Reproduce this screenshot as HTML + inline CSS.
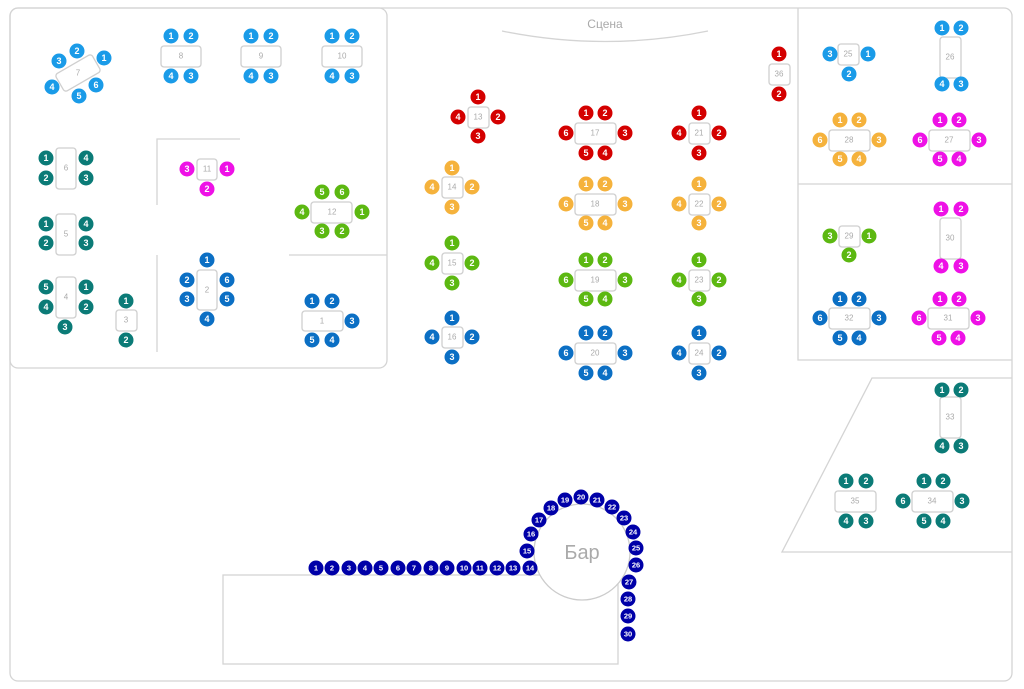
<!DOCTYPE html>
<html><head><meta charset="utf-8"><style>
body{margin:0;background:#fff}
svg{display:block;font-family:"Liberation Sans",sans-serif}
.w{fill:none;stroke:#d4d4d4;stroke-width:1.3}
.t{fill:#fff;stroke:#cfcfcf;stroke-width:1.3}
.l{fill:#aaa;font-size:8px;text-anchor:middle;dominant-baseline:central}
.s text{fill:#fff;font-size:9px;font-weight:bold;text-anchor:middle;dominant-baseline:central}
.b text{fill:#fff;font-size:7.5px;font-weight:bold;text-anchor:middle;dominant-baseline:central}
.lb circle{fill:#1a9be8}.tl circle{fill:#0b7b77}.mg circle{fill:#ee11e6}.gr circle{fill:#5cb811}
.bl circle{fill:#0b6fc4}.rd circle{fill:#d40000}.or circle{fill:#f5b23c}.nv circle{fill:#0000a8}
</style></head><body>
<svg width="1024" height="689" viewBox="0 0 1024 689">
<rect class="w" x="10" y="8" width="1002" height="673" rx="8"/>
<rect class="w" x="10" y="8" width="377" height="360" rx="8"/>
<path class="w" d="M157 205V139H240M157 255V352M289 255H387"/>
<path class="w" d="M798 8V360H1012M798 184H1012"/>
<path class="w" d="M1012 378H872L782 552H1012"/>
<path class="w" d="M502 31Q605 52 708 31"/>
<text x="605" y="28" fill="#aaa" font-size="12" text-anchor="middle">Сцена</text>
<rect class="w" x="223" y="575" width="395" height="89"/>
<circle cx="582" cy="552" r="48" fill="#fff" stroke="#ccc" stroke-width="1.3"/>
<text x="582" y="553" fill="#aaa" font-size="20" text-anchor="middle" dominant-baseline="central">Бар</text>

<!-- tables -->
<rect class="t" x="57" y="63" width="42" height="20" rx="3" transform="rotate(-30 78 73)"/><text class="l" x="78" y="73">7</text>
<rect class="t" x="161" y="46" width="40" height="21" rx="3"/><text class="l" x="181" y="56">8</text>
<rect class="t" x="241" y="46" width="40" height="21" rx="3"/><text class="l" x="261" y="56">9</text>
<rect class="t" x="322" y="46" width="40" height="21" rx="3"/><text class="l" x="342" y="56">10</text>
<rect class="t" x="56" y="148" width="20" height="41" rx="3"/><text class="l" x="66" y="168">6</text>
<rect class="t" x="56" y="214" width="20" height="41" rx="3"/><text class="l" x="66" y="234">5</text>
<rect class="t" x="56" y="277" width="20" height="41" rx="3"/><text class="l" x="66" y="297">4</text>
<rect class="t" x="116" y="310" width="21" height="21" rx="3"/><text class="l" x="126" y="320">3</text>
<rect class="t" x="197" y="159" width="20" height="21" rx="3"/><text class="l" x="207" y="169">11</text>
<rect class="t" x="311" y="202" width="41" height="21" rx="3"/><text class="l" x="332" y="212">12</text>
<rect class="t" x="197" y="270" width="20" height="40" rx="3"/><text class="l" x="207" y="290">2</text>
<rect class="t" x="302" y="311" width="41" height="20" rx="3"/><text class="l" x="322" y="321">1</text>
<rect class="t" x="468" y="107" width="21" height="21" rx="3"/><text class="l" x="478" y="117">13</text>
<rect class="t" x="575" y="123" width="41" height="21" rx="3"/><text class="l" x="595" y="133">17</text>
<rect class="t" x="689" y="123" width="21" height="21" rx="3"/><text class="l" x="699" y="133">21</text>
<rect class="t" x="769" y="64" width="21" height="21" rx="3"/><text class="l" x="779" y="74">36</text>
<rect class="t" x="442" y="177" width="21" height="21" rx="3"/><text class="l" x="452" y="187">14</text>
<rect class="t" x="575" y="194" width="41" height="21" rx="3"/><text class="l" x="595" y="204">18</text>
<rect class="t" x="689" y="194" width="21" height="21" rx="3"/><text class="l" x="699" y="204">22</text>
<rect class="t" x="442" y="253" width="21" height="21" rx="3"/><text class="l" x="452" y="263">15</text>
<rect class="t" x="575" y="270" width="41" height="21" rx="3"/><text class="l" x="595" y="280">19</text>
<rect class="t" x="689" y="270" width="21" height="21" rx="3"/><text class="l" x="699" y="280">23</text>
<rect class="t" x="442" y="327" width="21" height="21" rx="3"/><text class="l" x="452" y="337">16</text>
<rect class="t" x="575" y="343" width="41" height="21" rx="3"/><text class="l" x="595" y="353">20</text>
<rect class="t" x="689" y="343" width="21" height="21" rx="3"/><text class="l" x="699" y="353">24</text>
<rect class="t" x="838" y="44" width="21" height="21" rx="3"/><text class="l" x="848" y="54">25</text>
<rect class="t" x="940" y="37" width="21" height="41" rx="3"/><text class="l" x="950" y="57">26</text>
<rect class="t" x="829" y="130" width="41" height="21" rx="3"/><text class="l" x="849" y="140">28</text>
<rect class="t" x="929" y="130" width="41" height="21" rx="3"/><text class="l" x="949" y="140">27</text>
<rect class="t" x="839" y="226" width="21" height="21" rx="3"/><text class="l" x="849" y="236">29</text>
<rect class="t" x="940" y="218" width="21" height="41" rx="3"/><text class="l" x="950" y="238">30</text>
<rect class="t" x="829" y="308" width="41" height="21" rx="3"/><text class="l" x="849" y="318">32</text>
<rect class="t" x="928" y="308" width="41" height="21" rx="3"/><text class="l" x="948" y="318">31</text>
<rect class="t" x="940" y="397" width="21" height="41" rx="3"/><text class="l" x="950" y="417">33</text>
<rect class="t" x="835" y="491" width="41" height="21" rx="3"/><text class="l" x="855" y="501">35</text>
<rect class="t" x="912" y="491" width="41" height="21" rx="3"/><text class="l" x="932" y="501">34</text>

<g class="s lb">
<circle cx="77" cy="51" r="7.5"/><text x="77" y="51">2</text>
<circle cx="59" cy="61" r="7.5"/><text x="59" y="61">3</text>
<circle cx="104" cy="58" r="7.5"/><text x="104" y="58">1</text>
<circle cx="52" cy="87" r="7.5"/><text x="52" y="87">4</text>
<circle cx="79" cy="96" r="7.5"/><text x="79" y="96">5</text>
<circle cx="96" cy="85" r="7.5"/><text x="96" y="85">6</text>
<circle cx="171" cy="36" r="7.5"/><text x="171" y="36">1</text>
<circle cx="191" cy="36" r="7.5"/><text x="191" y="36">2</text>
<circle cx="171" cy="76" r="7.5"/><text x="171" y="76">4</text>
<circle cx="191" cy="76" r="7.5"/><text x="191" y="76">3</text>
<circle cx="251" cy="36" r="7.5"/><text x="251" y="36">1</text>
<circle cx="271" cy="36" r="7.5"/><text x="271" y="36">2</text>
<circle cx="251" cy="76" r="7.5"/><text x="251" y="76">4</text>
<circle cx="271" cy="76" r="7.5"/><text x="271" y="76">3</text>
<circle cx="332" cy="36" r="7.5"/><text x="332" y="36">1</text>
<circle cx="352" cy="36" r="7.5"/><text x="352" y="36">2</text>
<circle cx="332" cy="76" r="7.5"/><text x="332" y="76">4</text>
<circle cx="352" cy="76" r="7.5"/><text x="352" y="76">3</text>
<circle cx="830" cy="54" r="7.5"/><text x="830" y="54">3</text>
<circle cx="868" cy="54" r="7.5"/><text x="868" y="54">1</text>
<circle cx="849" cy="74" r="7.5"/><text x="849" y="74">2</text>
<circle cx="942" cy="28" r="7.5"/><text x="942" y="28">1</text>
<circle cx="961" cy="28" r="7.5"/><text x="961" y="28">2</text>
<circle cx="942" cy="84" r="7.5"/><text x="942" y="84">4</text>
<circle cx="961" cy="84" r="7.5"/><text x="961" y="84">3</text>
</g>
<g class="s tl">
<circle cx="46" cy="158" r="7.5"/><text x="46" y="158">1</text>
<circle cx="46" cy="178" r="7.5"/><text x="46" y="178">2</text>
<circle cx="86" cy="158" r="7.5"/><text x="86" y="158">4</text>
<circle cx="86" cy="178" r="7.5"/><text x="86" y="178">3</text>
<circle cx="46" cy="224" r="7.5"/><text x="46" y="224">1</text>
<circle cx="46" cy="243" r="7.5"/><text x="46" y="243">2</text>
<circle cx="86" cy="224" r="7.5"/><text x="86" y="224">4</text>
<circle cx="86" cy="243" r="7.5"/><text x="86" y="243">3</text>
<circle cx="46" cy="287" r="7.5"/><text x="46" y="287">5</text>
<circle cx="46" cy="307" r="7.5"/><text x="46" y="307">4</text>
<circle cx="86" cy="287" r="7.5"/><text x="86" y="287">1</text>
<circle cx="86" cy="307" r="7.5"/><text x="86" y="307">2</text>
<circle cx="65" cy="327" r="7.5"/><text x="65" y="327">3</text>
<circle cx="126" cy="301" r="7.5"/><text x="126" y="301">1</text>
<circle cx="126" cy="340" r="7.5"/><text x="126" y="340">2</text>
<circle cx="942" cy="390" r="7.5"/><text x="942" y="390">1</text>
<circle cx="961" cy="390" r="7.5"/><text x="961" y="390">2</text>
<circle cx="942" cy="446" r="7.5"/><text x="942" y="446">4</text>
<circle cx="961" cy="446" r="7.5"/><text x="961" y="446">3</text>
<circle cx="846" cy="481" r="7.5"/><text x="846" y="481">1</text>
<circle cx="866" cy="481" r="7.5"/><text x="866" y="481">2</text>
<circle cx="846" cy="521" r="7.5"/><text x="846" y="521">4</text>
<circle cx="866" cy="521" r="7.5"/><text x="866" y="521">3</text>
<circle cx="924" cy="481" r="7.5"/><text x="924" y="481">1</text>
<circle cx="943" cy="481" r="7.5"/><text x="943" y="481">2</text>
<circle cx="903" cy="501" r="7.5"/><text x="903" y="501">6</text>
<circle cx="962" cy="501" r="7.5"/><text x="962" y="501">3</text>
<circle cx="924" cy="521" r="7.5"/><text x="924" y="521">5</text>
<circle cx="943" cy="521" r="7.5"/><text x="943" y="521">4</text>
</g>
<g class="s mg">
<circle cx="187" cy="169" r="7.5"/><text x="187" y="169">3</text>
<circle cx="227" cy="169" r="7.5"/><text x="227" y="169">1</text>
<circle cx="207" cy="189" r="7.5"/><text x="207" y="189">2</text>
<circle cx="940" cy="120" r="7.5"/><text x="940" y="120">1</text>
<circle cx="959" cy="120" r="7.5"/><text x="959" y="120">2</text>
<circle cx="920" cy="140" r="7.5"/><text x="920" y="140">6</text>
<circle cx="979" cy="140" r="7.5"/><text x="979" y="140">3</text>
<circle cx="940" cy="159" r="7.5"/><text x="940" y="159">5</text>
<circle cx="959" cy="159" r="7.5"/><text x="959" y="159">4</text>
<circle cx="941" cy="209" r="7.5"/><text x="941" y="209">1</text>
<circle cx="961" cy="209" r="7.5"/><text x="961" y="209">2</text>
<circle cx="941" cy="266" r="7.5"/><text x="941" y="266">4</text>
<circle cx="961" cy="266" r="7.5"/><text x="961" y="266">3</text>
<circle cx="940" cy="299" r="7.5"/><text x="940" y="299">1</text>
<circle cx="959" cy="299" r="7.5"/><text x="959" y="299">2</text>
<circle cx="919" cy="318" r="7.5"/><text x="919" y="318">6</text>
<circle cx="978" cy="318" r="7.5"/><text x="978" y="318">3</text>
<circle cx="939" cy="338" r="7.5"/><text x="939" y="338">5</text>
<circle cx="958" cy="338" r="7.5"/><text x="958" y="338">4</text>
</g>
<g class="s gr">
<circle cx="322" cy="192" r="7.5"/><text x="322" y="192">5</text>
<circle cx="342" cy="192" r="7.5"/><text x="342" y="192">6</text>
<circle cx="302" cy="212" r="7.5"/><text x="302" y="212">4</text>
<circle cx="362" cy="212" r="7.5"/><text x="362" y="212">1</text>
<circle cx="322" cy="231" r="7.5"/><text x="322" y="231">3</text>
<circle cx="342" cy="231" r="7.5"/><text x="342" y="231">2</text>
<circle cx="452" cy="243" r="7.5"/><text x="452" y="243">1</text>
<circle cx="432" cy="263" r="7.5"/><text x="432" y="263">4</text>
<circle cx="472" cy="263" r="7.5"/><text x="472" y="263">2</text>
<circle cx="452" cy="283" r="7.5"/><text x="452" y="283">3</text>
<circle cx="586" cy="260" r="7.5"/><text x="586" y="260">1</text>
<circle cx="605" cy="260" r="7.5"/><text x="605" y="260">2</text>
<circle cx="566" cy="280" r="7.5"/><text x="566" y="280">6</text>
<circle cx="625" cy="280" r="7.5"/><text x="625" y="280">3</text>
<circle cx="586" cy="299" r="7.5"/><text x="586" y="299">5</text>
<circle cx="605" cy="299" r="7.5"/><text x="605" y="299">4</text>
<circle cx="699" cy="260" r="7.5"/><text x="699" y="260">1</text>
<circle cx="679" cy="280" r="7.5"/><text x="679" y="280">4</text>
<circle cx="719" cy="280" r="7.5"/><text x="719" y="280">2</text>
<circle cx="699" cy="299" r="7.5"/><text x="699" y="299">3</text>
<circle cx="830" cy="236" r="7.5"/><text x="830" y="236">3</text>
<circle cx="869" cy="236" r="7.5"/><text x="869" y="236">1</text>
<circle cx="849" cy="255" r="7.5"/><text x="849" y="255">2</text>
</g>
<g class="s bl">
<circle cx="207" cy="260" r="7.5"/><text x="207" y="260">1</text>
<circle cx="187" cy="280" r="7.5"/><text x="187" y="280">2</text>
<circle cx="187" cy="299" r="7.5"/><text x="187" y="299">3</text>
<circle cx="227" cy="280" r="7.5"/><text x="227" y="280">6</text>
<circle cx="227" cy="299" r="7.5"/><text x="227" y="299">5</text>
<circle cx="207" cy="319" r="7.5"/><text x="207" y="319">4</text>
<circle cx="312" cy="301" r="7.5"/><text x="312" y="301">1</text>
<circle cx="332" cy="301" r="7.5"/><text x="332" y="301">2</text>
<circle cx="352" cy="321" r="7.5"/><text x="352" y="321">3</text>
<circle cx="312" cy="340" r="7.5"/><text x="312" y="340">5</text>
<circle cx="332" cy="340" r="7.5"/><text x="332" y="340">4</text>
<circle cx="452" cy="318" r="7.5"/><text x="452" y="318">1</text>
<circle cx="432" cy="337" r="7.5"/><text x="432" y="337">4</text>
<circle cx="472" cy="337" r="7.5"/><text x="472" y="337">2</text>
<circle cx="452" cy="357" r="7.5"/><text x="452" y="357">3</text>
<circle cx="586" cy="333" r="7.5"/><text x="586" y="333">1</text>
<circle cx="605" cy="333" r="7.5"/><text x="605" y="333">2</text>
<circle cx="566" cy="353" r="7.5"/><text x="566" y="353">6</text>
<circle cx="625" cy="353" r="7.5"/><text x="625" y="353">3</text>
<circle cx="586" cy="373" r="7.5"/><text x="586" y="373">5</text>
<circle cx="605" cy="373" r="7.5"/><text x="605" y="373">4</text>
<circle cx="699" cy="333" r="7.5"/><text x="699" y="333">1</text>
<circle cx="679" cy="353" r="7.5"/><text x="679" y="353">4</text>
<circle cx="719" cy="353" r="7.5"/><text x="719" y="353">2</text>
<circle cx="699" cy="373" r="7.5"/><text x="699" y="373">3</text>
<circle cx="840" cy="299" r="7.5"/><text x="840" y="299">1</text>
<circle cx="859" cy="299" r="7.5"/><text x="859" y="299">2</text>
<circle cx="820" cy="318" r="7.5"/><text x="820" y="318">6</text>
<circle cx="879" cy="318" r="7.5"/><text x="879" y="318">3</text>
<circle cx="840" cy="338" r="7.5"/><text x="840" y="338">5</text>
<circle cx="859" cy="338" r="7.5"/><text x="859" y="338">4</text>
</g>
<g class="s rd">
<circle cx="478" cy="97" r="7.5"/><text x="478" y="97">1</text>
<circle cx="458" cy="117" r="7.5"/><text x="458" y="117">4</text>
<circle cx="498" cy="117" r="7.5"/><text x="498" y="117">2</text>
<circle cx="478" cy="136" r="7.5"/><text x="478" y="136">3</text>
<circle cx="586" cy="113" r="7.5"/><text x="586" y="113">1</text>
<circle cx="605" cy="113" r="7.5"/><text x="605" y="113">2</text>
<circle cx="566" cy="133" r="7.5"/><text x="566" y="133">6</text>
<circle cx="625" cy="133" r="7.5"/><text x="625" y="133">3</text>
<circle cx="586" cy="153" r="7.5"/><text x="586" y="153">5</text>
<circle cx="605" cy="153" r="7.5"/><text x="605" y="153">4</text>
<circle cx="699" cy="113" r="7.5"/><text x="699" y="113">1</text>
<circle cx="679" cy="133" r="7.5"/><text x="679" y="133">4</text>
<circle cx="719" cy="133" r="7.5"/><text x="719" y="133">2</text>
<circle cx="699" cy="153" r="7.5"/><text x="699" y="153">3</text>
<circle cx="779" cy="54" r="7.5"/><text x="779" y="54">1</text>
<circle cx="779" cy="94" r="7.5"/><text x="779" y="94">2</text>
</g>
<g class="s or">
<circle cx="452" cy="168" r="7.5"/><text x="452" y="168">1</text>
<circle cx="432" cy="187" r="7.5"/><text x="432" y="187">4</text>
<circle cx="472" cy="187" r="7.5"/><text x="472" y="187">2</text>
<circle cx="452" cy="207" r="7.5"/><text x="452" y="207">3</text>
<circle cx="586" cy="184" r="7.5"/><text x="586" y="184">1</text>
<circle cx="605" cy="184" r="7.5"/><text x="605" y="184">2</text>
<circle cx="566" cy="204" r="7.5"/><text x="566" y="204">6</text>
<circle cx="625" cy="204" r="7.5"/><text x="625" y="204">3</text>
<circle cx="586" cy="223" r="7.5"/><text x="586" y="223">5</text>
<circle cx="605" cy="223" r="7.5"/><text x="605" y="223">4</text>
<circle cx="699" cy="184" r="7.5"/><text x="699" y="184">1</text>
<circle cx="679" cy="204" r="7.5"/><text x="679" y="204">4</text>
<circle cx="719" cy="204" r="7.5"/><text x="719" y="204">2</text>
<circle cx="699" cy="223" r="7.5"/><text x="699" y="223">3</text>
<circle cx="840" cy="120" r="7.5"/><text x="840" y="120">1</text>
<circle cx="859" cy="120" r="7.5"/><text x="859" y="120">2</text>
<circle cx="820" cy="140" r="7.5"/><text x="820" y="140">6</text>
<circle cx="879" cy="140" r="7.5"/><text x="879" y="140">3</text>
<circle cx="840" cy="159" r="7.5"/><text x="840" y="159">5</text>
<circle cx="859" cy="159" r="7.5"/><text x="859" y="159">4</text>
</g>
<g class="b nv">
<circle cx="316" cy="568" r="7.5"/><text x="316" y="568">1</text>
<circle cx="332" cy="568" r="7.5"/><text x="332" y="568">2</text>
<circle cx="349" cy="568" r="7.5"/><text x="349" y="568">3</text>
<circle cx="365" cy="568" r="7.5"/><text x="365" y="568">4</text>
<circle cx="381" cy="568" r="7.5"/><text x="381" y="568">5</text>
<circle cx="398" cy="568" r="7.5"/><text x="398" y="568">6</text>
<circle cx="414" cy="568" r="7.5"/><text x="414" y="568">7</text>
<circle cx="431" cy="568" r="7.5"/><text x="431" y="568">8</text>
<circle cx="447" cy="568" r="7.5"/><text x="447" y="568">9</text>
<circle cx="464" cy="568" r="7.5"/><text x="464" y="568">10</text>
<circle cx="480" cy="568" r="7.5"/><text x="480" y="568">11</text>
<circle cx="497" cy="568" r="7.5"/><text x="497" y="568">12</text>
<circle cx="513" cy="568" r="7.5"/><text x="513" y="568">13</text>
<circle cx="530" cy="568" r="7.5"/><text x="530" y="568">14</text>
<circle cx="527" cy="551" r="7.5"/><text x="527" y="551">15</text>
<circle cx="531" cy="534" r="7.5"/><text x="531" y="534">16</text>
<circle cx="539" cy="520" r="7.5"/><text x="539" y="520">17</text>
<circle cx="551" cy="508" r="7.5"/><text x="551" y="508">18</text>
<circle cx="565" cy="500" r="7.5"/><text x="565" y="500">19</text>
<circle cx="581" cy="497" r="7.5"/><text x="581" y="497">20</text>
<circle cx="597" cy="500" r="7.5"/><text x="597" y="500">21</text>
<circle cx="612" cy="507" r="7.5"/><text x="612" y="507">22</text>
<circle cx="624" cy="518" r="7.5"/><text x="624" y="518">23</text>
<circle cx="633" cy="532" r="7.5"/><text x="633" y="532">24</text>
<circle cx="636" cy="548" r="7.5"/><text x="636" y="548">25</text>
<circle cx="636" cy="565" r="7.5"/><text x="636" y="565">26</text>
<circle cx="629" cy="582" r="7.5"/><text x="629" y="582">27</text>
<circle cx="628" cy="599" r="7.5"/><text x="628" y="599">28</text>
<circle cx="628" cy="616" r="7.5"/><text x="628" y="616">29</text>
<circle cx="628" cy="634" r="7.5"/><text x="628" y="634">30</text>
</g>
</svg>
</body></html>
